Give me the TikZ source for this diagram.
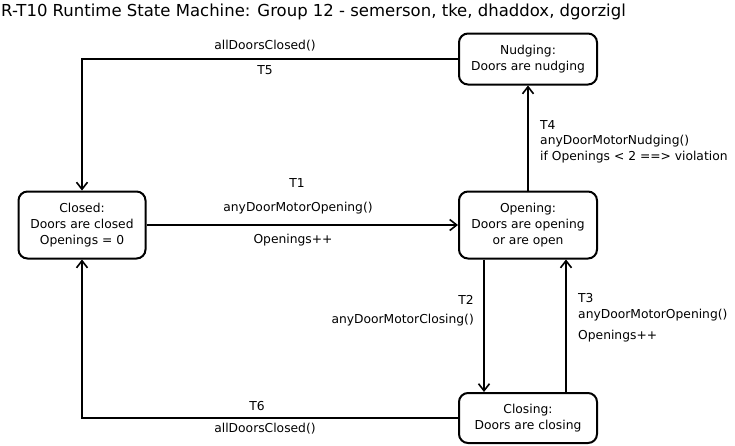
\documentclass[tikz,border=0pt]{standalone}
\usepackage{fontspec}
\setmainfont{DejaVu Sans}
\usetikzlibrary{arrows.meta}
\begin{document}
\begin{tikzpicture}[x=1pt,y=-1pt,
  state/.style={draw, line width=2pt, rounded corners=9pt, minimum width=138pt, minimum height=51pt, align=center, font=\fontsize{12.3}{16}\selectfont, inner sep=0pt},
  conn/.style={line width=2pt, line join=miter, -{Straight Barb[length=7pt,width=11pt,line width=1.6pt]}},
  lab/.style={font=\fontsize{12.3}{15}\selectfont, inner sep=0pt}]
\useasboundingbox (0,0) rectangle (735,445);
\node[anchor=west, inner sep=0pt, font=\fontsize{16.5}{18}\selectfont] (title) at (1,12) {R-T10 Runtime State Machine: Group 12 - semerson, tke, dhaddox, dgorzigl};
\node[state] (nud) at (528,59) {Nudging:\\Doors are nudging};
\node[state, minimum width=127pt, minimum height=67pt] (clo) at (82,225) {Closed:\\Doors are closed\\Openings = 0};
\node[state, minimum height=67pt] (ope) at (528,225) {Opening:\\Doors are opening\\or are open};
\node[state, minimum height=50pt] (cls) at (528,418) {Closing:\\Doors are closing};
\coordinate (c5) at (82,59);
\coordinate (c6) at (82,418);
% T5
\draw[conn] (nud.west) -- (c5) -- (clo.north);
\node[lab] (t5a) at (265,46) {allDoorsClosed()};
\node[lab] (t5b) at (265,70) {T5};
% T1
\draw[conn] (clo.east) -- (ope.west);
\node[lab] (t1a) at (297,183) {T1};
\node[lab] (t1b) at (298,208) {anyDoorMotorOpening()};
\node[lab] (t1c) at (293,240) {Openings++};
% T4
\draw[conn] (ope.north) -- (nud.south);
\node[lab, anchor=west] (t4a) at (540,125) {T4};
\node[lab, anchor=west] (t4b) at (540,141) {anyDoorMotorNudging()};
\node[lab, anchor=west] (t4c) at (540,157) {if Openings < 2 ==> violation};
% T2
\draw[conn] (ope.south -| 484,0) -- (cls.north -| 484,0);
\node[lab, anchor=east] (t2a) at (474,300) {T2};
\node[lab, anchor=east] (t2b) at (474,320) {anyDoorMotorClosing()};
% T3
\draw[conn] (cls.north -| 566,0) -- (ope.south -| 566,0);
\node[lab, anchor=west] (t3a) at (578,298) {T3};
\node[lab, anchor=west] (t3b) at (578,315) {anyDoorMotorOpening()};
\node[lab, anchor=west] (t3c) at (578,336) {Openings++};
% T6
\draw[conn] (cls.west) -- (c6) -- (clo.south);
\node[lab] (t6a) at (257,406) {T6};
\node[lab] (t6b) at (265,429) {allDoorsClosed()};
\end{tikzpicture}
\end{document}
